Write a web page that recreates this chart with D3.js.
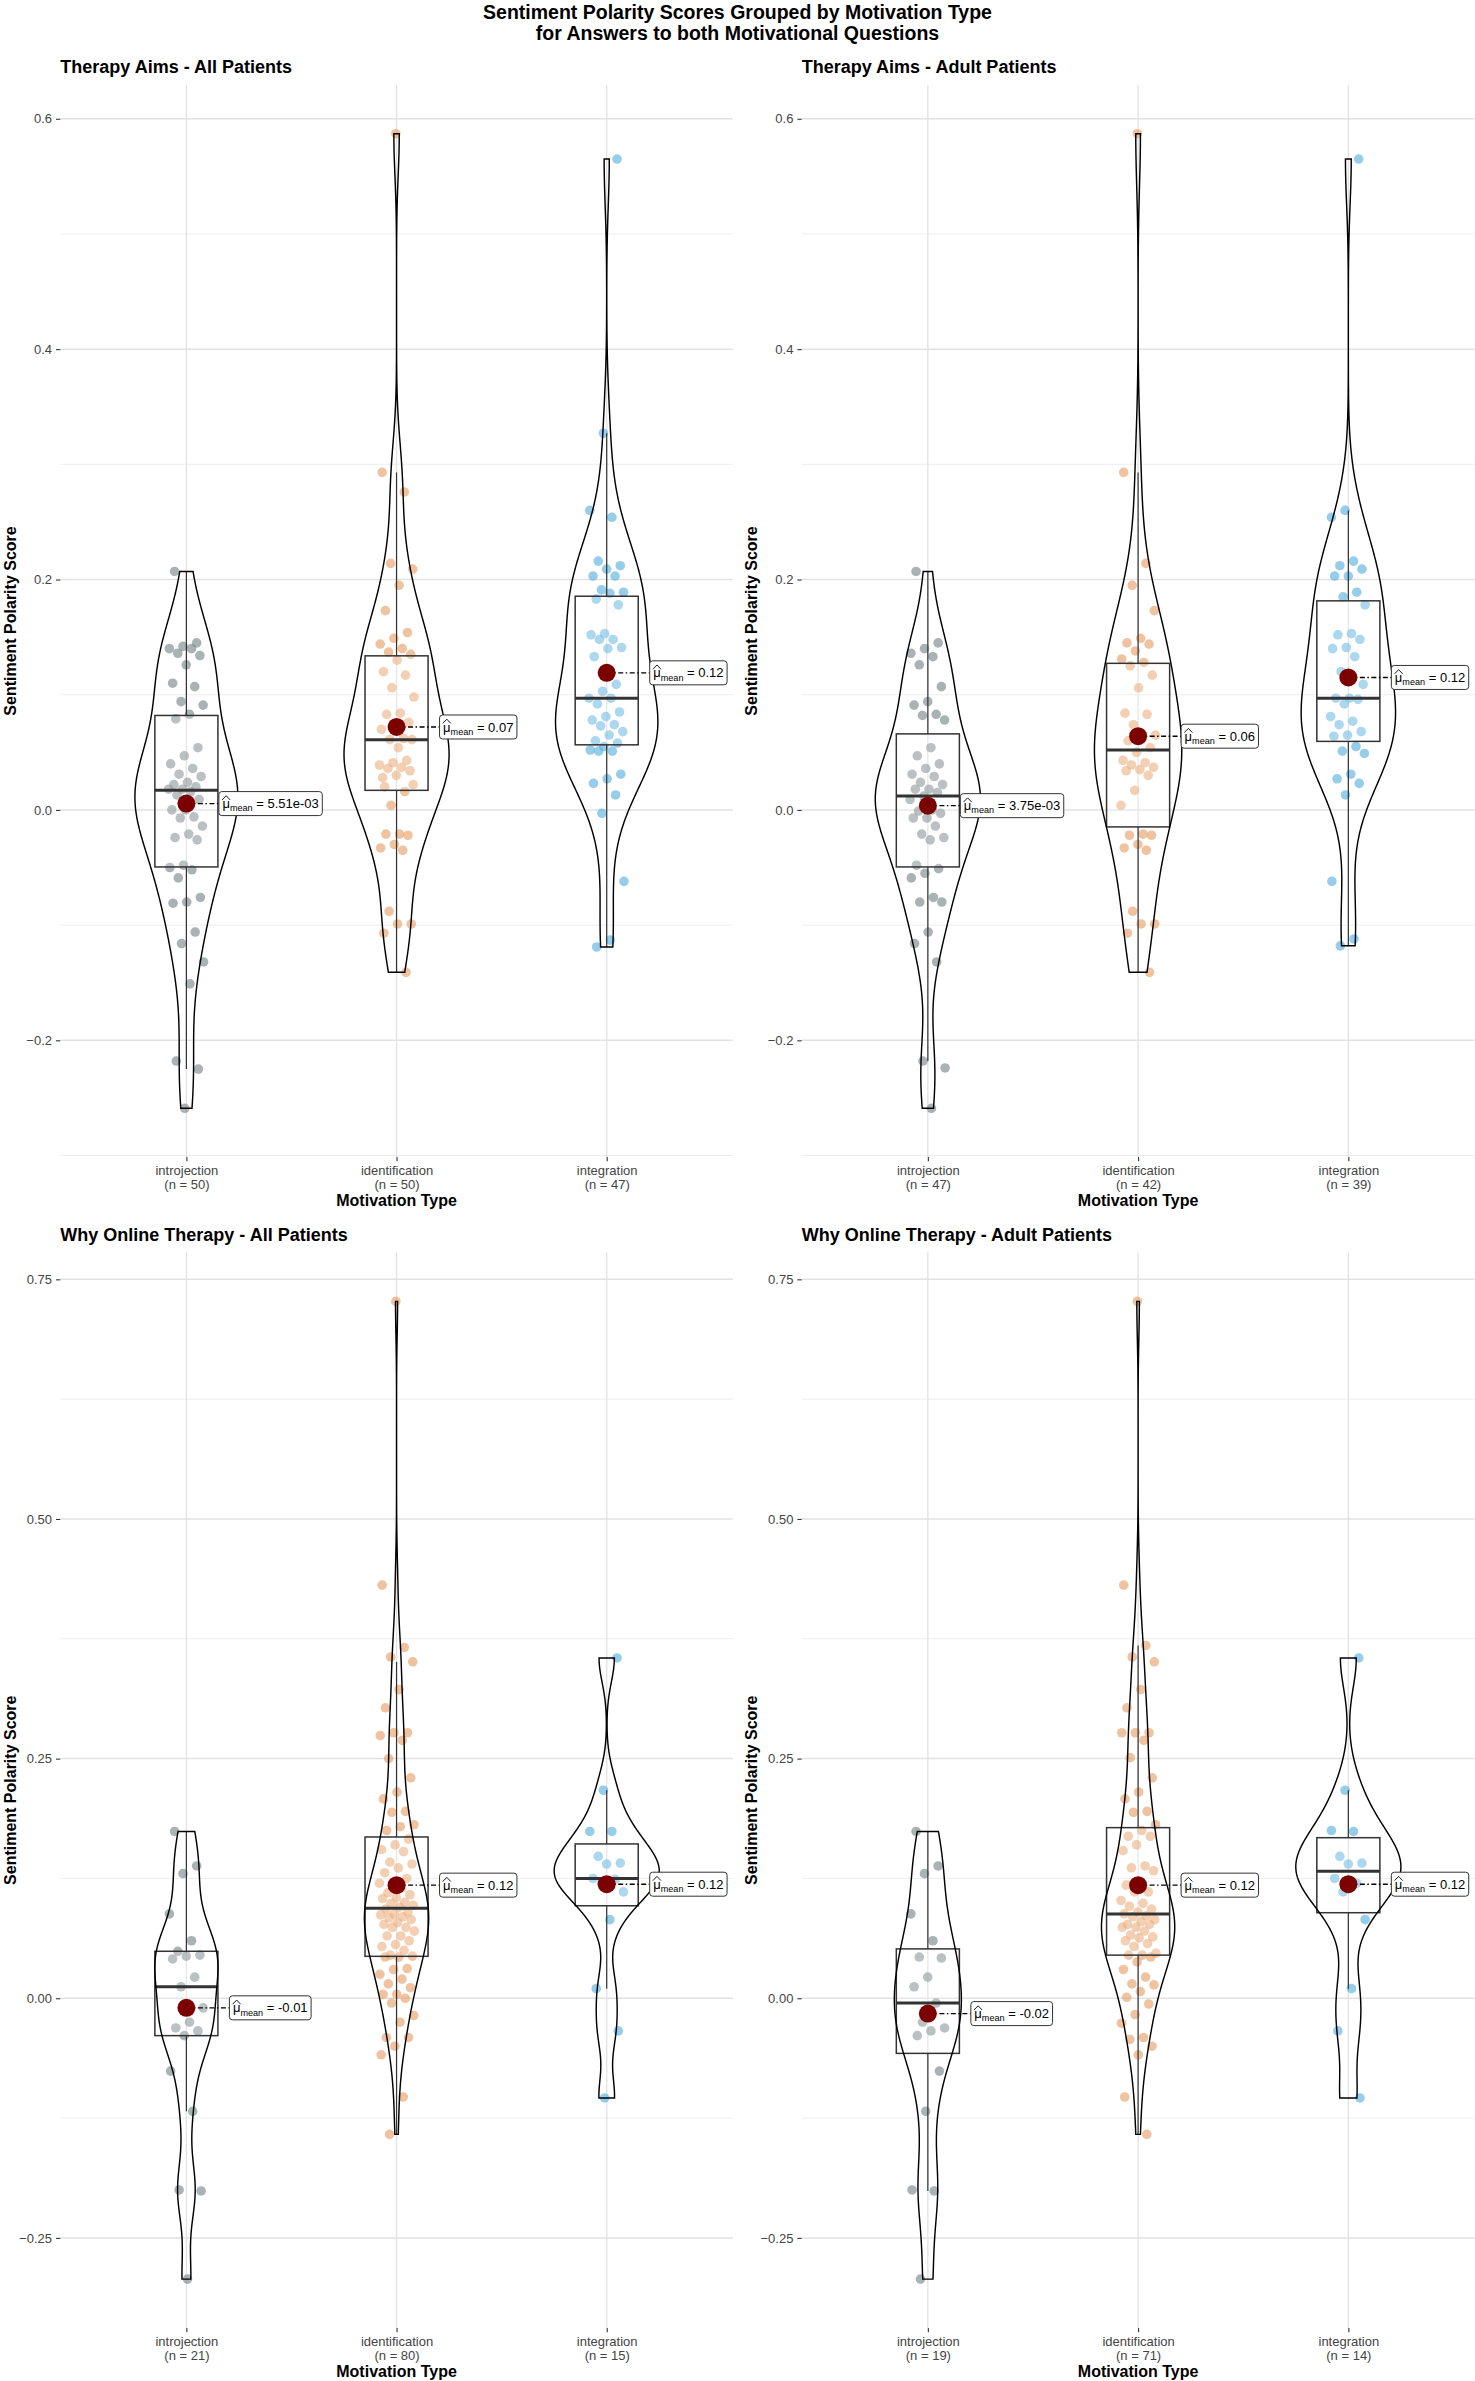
<!DOCTYPE html>
<html>
<head>
<meta charset="utf-8">
<script src="https://cdn.jsdelivr.net/npm/d3@7"></script>
<style>
  body { margin: 0; background: #fff; }
  svg text { font-family: "Liberation Sans", Arial, Helvetica, sans-serif; }
</style>
</head>
<body>
<svg id="chart" width="1475" height="2381"></svg>
<script>
// ---- data ----
const categories = ["introjection", "identification", "integration"];
const mainTitle = ["Sentiment Polarity Scores Grouped by Motivation Type",
                   "for Answers to both Motivational Questions"];
const panelTitles = ["Therapy Aims - All Patients", "Therapy Aims - Adult Patients",
                     "Why Online Therapy - All Patients", "Why Online Therapy - Adult Patients"];

const ticksAims = [-0.2, 0, 0.2, 0.4, 0.6];
const ticksOnline = [-0.25, 0, 0.25, 0.5, 0.75];

// Therapy Aims - All Patients
const aimsAllIntrojection = [0.207, 0.145, 0.142, 0.140, 0.140, 0.136, 0.134, 0.126, 0.110, 0.107,
  0.094, 0.091, 0.083, 0.079, 0.054, 0.047, 0.040, 0.036, 0.031, 0.029, 0.024, 0.022, 0.020, 0.018,
  0.018, 0.016, 0.013, 0.009, 0.000, 0.000, -0.006, -0.007, -0.014, -0.021, -0.024, -0.026, -0.048,
  -0.050, -0.052, -0.059, -0.076, -0.080, -0.081, -0.106, -0.116, -0.132, -0.151, -0.218, -0.225, -0.259];
const aimsAllIdentification = [0.587, 0.293, 0.276, 0.214, 0.209, 0.195, 0.173, 0.154, 0.149, 0.144,
  0.140, 0.137, 0.135, 0.130, 0.120, 0.117, 0.106, 0.098, 0.084, 0.083, 0.076, 0.072, 0.070, 0.062,
  0.061, 0.061, 0.054, 0.020, 0.043, 0.041, 0.039, 0.037, 0.036, 0.034, 0.030, 0.028, 0.016, 0.004,
  0.022, -0.021, -0.021, -0.022, -0.030, -0.033, -0.035, -0.088, -0.099, -0.099, -0.107, -0.141];
const aimsAllIntegration = [0.565, 0.327, 0.260, 0.254, 0.216, 0.212, 0.209, 0.203, 0.203, 0.191,
  0.189, 0.188, 0.183, 0.178, 0.153, 0.152, 0.148, 0.148, 0.141, 0.140, 0.133, 0.109, 0.103, 0.097,
  0.097, 0.092, 0.085, 0.081, 0.078, 0.074, 0.073, 0.068, 0.065, 0.060, 0.058, 0.055, 0.052, 0.051,
  0.051, 0.031, 0.027, 0.023, 0.013, -0.003, -0.062, -0.113, -0.119];
const meansAimsAll = [0.0055, 0.072, 0.119];
const meanLabelsAimsAll = ["5.51e-03", "0.07", "0.12"];

// Therapy Aims - Adult Patients
const aimsAdultIntrojection = [0.207, 0.145, 0.140, 0.136, 0.133, 0.126, 0.107, 0.094, 0.091, 0.083,
  0.082, 0.078, 0.054, 0.047, 0.040, 0.036, 0.031, 0.029, 0.024, 0.022, 0.018, 0.018, 0.015, 0.012,
  0.009, 0.000, -0.001, -0.003, -0.007, -0.007, -0.014, -0.021, -0.024, -0.026, -0.048, -0.051, -0.055,
  -0.059, -0.076, -0.080, -0.080, -0.106, -0.116, -0.132, -0.218, -0.224, -0.259];
const aimsAdultIdentification = [0.587, 0.293, 0.214, 0.195, 0.173, 0.149, 0.145, 0.144, 0.138, 0.131,
  0.128, 0.125, 0.117, 0.106, 0.084, 0.083, 0.074, 0.065, 0.064, 0.060, 0.054, 0.050, 0.043, 0.041,
  0.039, 0.037, 0.035, 0.034, 0.030, 0.017, 0.004, -0.021, -0.022, -0.022, -0.030, -0.033, -0.035,
  -0.088, -0.099, -0.099, -0.107, -0.141];
const aimsAdultIntegration = [0.565, 0.260, 0.254, 0.216, 0.212, 0.209, 0.203, 0.203, 0.189, 0.185,
  0.178, 0.153, 0.152, 0.148, 0.141, 0.140, 0.133, 0.120, 0.109, 0.097, 0.097, 0.096, 0.092, 0.081,
  0.077, 0.074, 0.068, 0.065, 0.064, 0.055, 0.051, 0.049, 0.031, 0.027, 0.023, 0.013, -0.062, -0.112, -0.118];
const meansAimsAdult = [0.0037, 0.064, 0.115];
const meanLabelsAimsAdult = ["3.75e-03", "0.06", "0.12"];

// Why Online Therapy - All Patients
const onlineAllIntrojection = [0.174, 0.138, 0.130, 0.088, 0.060, 0.049, 0.045, 0.044, 0.041, 0.022,
  0.012, -0.010, -0.025, -0.031, -0.034, -0.039, -0.076, -0.118, -0.200, -0.201, -0.293];
const onlineAllIdentification = [0.727, 0.431, 0.366, 0.356, 0.351, 0.322, 0.303, 0.277, 0.277, 0.274,
  0.269, 0.250, 0.230, 0.215, 0.208, 0.195, 0.194, 0.181, 0.179, 0.175, 0.166, 0.160, 0.155, 0.153,
  0.142, 0.140, 0.136, 0.131, 0.125, 0.120, 0.120, 0.115, 0.110, 0.108, 0.105, 0.104, 0.100, 0.099,
  0.097, 0.095, 0.093, 0.090, 0.088, 0.087, 0.085, 0.084, 0.082, 0.079, 0.077, 0.074, 0.074, 0.070,
  0.065, 0.065, 0.060, 0.056, 0.054, 0.050, 0.045, 0.044, 0.043, 0.043, 0.031, 0.030, 0.025, 0.020,
  0.015, 0.011, 0.004, 0.004, 0.000, -0.005, -0.018, -0.025, -0.041, -0.041, -0.050, -0.059, -0.103, -0.142];
const onlineAllIntegration = [0.355, 0.217, 0.174, 0.174, 0.148, 0.141, 0.140, 0.125, 0.124, 0.120,
  0.111, 0.082, 0.010, -0.034, -0.104];
const meansOnlineAll = [-0.010, 0.118, 0.119];
const meanLabelsOnlineAll = ["-0.01", "0.12", "0.12"];

// Why Online Therapy - Adult Patients
const onlineAdultIntrojection = [0.174, 0.138, 0.130, 0.088, 0.060, 0.043, 0.042, 0.022, 0.012, -0.005,
  -0.025, -0.031, -0.034, -0.039, -0.076, -0.118, -0.200, -0.201, -0.293];
const onlineAdultIdentification = [0.727, 0.431, 0.368, 0.356, 0.351, 0.322, 0.303, 0.277, 0.277, 0.277,
  0.269, 0.251, 0.230, 0.215, 0.208, 0.195, 0.194, 0.181, 0.175, 0.169, 0.169, 0.160, 0.154, 0.138,
  0.136, 0.133, 0.120, 0.118, 0.111, 0.111, 0.102, 0.099, 0.096, 0.093, 0.090, 0.088, 0.086, 0.085,
  0.082, 0.080, 0.077, 0.077, 0.074, 0.074, 0.070, 0.066, 0.064, 0.063, 0.060, 0.057, 0.054, 0.047,
  0.045, 0.045, 0.043, 0.038, 0.030, 0.022, 0.015, 0.014, 0.007, 0.001, -0.006, -0.017, -0.026, -0.041,
  -0.043, -0.050, -0.059, -0.103, -0.142];
const onlineAdultIntegration = [0.355, 0.217, 0.175, 0.174, 0.148, 0.141, 0.140, 0.125, 0.120, 0.111,
  0.082, 0.010, -0.034, -0.104];
const meansOnlineAdult = [-0.016, 0.118, 0.119];
const meanLabelsOnlineAdult = ["-0.02", "0.12", "0.12"];

const pointColors = ["#717F82", "#E69B61", "#50ACDE"];

const panels = [
  { title: panelTitles[0], groups: [aimsAllIntrojection, aimsAllIdentification, aimsAllIntegration],
    means: meansAimsAll, labels: meanLabelsAimsAll, ticks: ticksAims, fmt: ".1f" },
  { title: panelTitles[1], groups: [aimsAdultIntrojection, aimsAdultIdentification, aimsAdultIntegration],
    means: meansAimsAdult, labels: meanLabelsAimsAdult, ticks: ticksAims, fmt: ".1f" },
  { title: panelTitles[2], groups: [onlineAllIntrojection, onlineAllIdentification, onlineAllIntegration],
    means: meansOnlineAll, labels: meanLabelsOnlineAll, ticks: ticksOnline, fmt: ".2f" },
  { title: panelTitles[3], groups: [onlineAdultIntrojection, onlineAdultIdentification, onlineAdultIntegration],
    means: meansOnlineAdult, labels: meanLabelsOnlineAdult, ticks: ticksOnline, fmt: ".2f" }
];

// ---- layout ----
const colX = [[60.3, 732.8], [801.7, 1474.5]];
const rowY = [[85, 1157], [1252.5, 2328]];

const svg = d3.select("#chart");

svg.append("g").selectAll("text").data(mainTitle).join("text")
  .attr("x", 737.5).attr("y", (d, i) => 19 + i * 21)
  .attr("text-anchor", "middle")
  .style("font-size", "19.5px").style("font-weight", "bold")
  .text(d => d);

// gaussian kde, bw.nrd0 like R
function kde(values, n) {
  const s = values.slice().sort(d3.ascending);
  const sd = d3.deviation(s);
  const iqr = d3.quantileSorted(s, 0.75) - d3.quantileSorted(s, 0.25);
  let lo = Math.min(sd, iqr / 1.34);
  if (!(lo > 0)) lo = sd;
  const bw = 0.9 * lo * Math.pow(s.length, -0.2);
  const mn = s[0], mx = s[s.length - 1];
  const k = 1 / Math.sqrt(2 * Math.PI);
  return d3.range(n).map(i => {
    const y = mn + (mx - mn) * i / (n - 1);
    const d = d3.mean(s, v => k * Math.exp(-0.5 * ((y - v) / bw) ** 2)) / bw;
    return [y, d];
  });
}

function boxStats(values) {
  const s = values.slice().sort(d3.ascending);
  const q1 = d3.quantileSorted(s, 0.25), med = d3.quantileSorted(s, 0.5), q3 = d3.quantileSorted(s, 0.75);
  const iqr = q3 - q1;
  const lo = d3.min(s.filter(v => v >= q1 - 1.5 * iqr));
  const hi = d3.max(s.filter(v => v <= q3 + 1.5 * iqr));
  return { q1, med, q3, lo, hi };
}

panels.forEach((p, pi) => {
  const [x0, x1] = colX[pi % 2];
  const [y0, y1] = rowY[Math.floor(pi / 2)];
  const g = svg.append("g");

  const all = p.groups.flat();
  const [mn, mx] = d3.extent(all);
  const pad = (mx - mn) * 0.05;
  const y = d3.scaleLinear().domain([mn - pad, mx + pad]).range([y1, y0]);
  const x = d3.scalePoint().domain(categories).range([x0, x1]).padding(0.6);
  const step = x.step();

  // grid
  const tstep = p.ticks[1] - p.ticks[0];
  const minor = [p.ticks[0] - tstep / 2, ...p.ticks.map(t => t + tstep / 2)]
    .filter(v => v >= y.domain()[0] && v <= y.domain()[1]);
  g.append("g").selectAll("line").data(minor).join("line")
    .attr("x1", x0).attr("x2", x1).attr("y1", d => y(d)).attr("y2", d => y(d))
    .attr("stroke", "#EBEBEB").attr("stroke-width", 0.9);
  g.append("g").selectAll("line").data(p.ticks).join("line")
    .attr("x1", x0).attr("x2", x1).attr("y1", d => y(d)).attr("y2", d => y(d))
    .attr("stroke", "#E2E2E2").attr("stroke-width", 1.5);
  g.append("g").selectAll("line").data(categories).join("line")
    .attr("x1", d => x(d)).attr("x2", d => x(d)).attr("y1", y0).attr("y2", y1)
    .attr("stroke", "#E2E2E2").attr("stroke-width", 1.3);

  // jittered points
  p.groups.forEach((vals, gi) => {
    const cx = x(categories[gi]);
    g.append("g").selectAll("circle").data(vals).join("circle")
      .attr("cx", (d, i) => cx + (((i * 0.6180339887 + 0.31 * gi + 0.17) % 1) * 2 - 1) * 0.085 * step)
      .attr("cy", d => y(d))
      .attr("r", 4.8)
      .attr("fill", pointColors[gi]).attr("fill-opacity", 0.6);
  });

  // boxplots
  p.groups.forEach((vals, gi) => {
    const cx = x(categories[gi]);
    const b = boxStats(vals);
    const hw = 0.15 * step;
    const bg = g.append("g").attr("stroke", "#333333");
    bg.append("line").attr("x1", cx).attr("x2", cx).attr("y1", y(b.q3)).attr("y2", y(b.hi)).attr("stroke-width", 1.2);
    bg.append("line").attr("x1", cx).attr("x2", cx).attr("y1", y(b.q1)).attr("y2", y(b.lo)).attr("stroke-width", 1.2);
    bg.append("rect").attr("x", cx - hw).attr("width", 2 * hw)
      .attr("y", y(b.q3)).attr("height", y(b.q1) - y(b.q3))
      .attr("fill", "#fff").attr("fill-opacity", 0.2).attr("stroke-width", 1.5);
    bg.append("line").attr("x1", cx - hw).attr("x2", cx + hw).attr("y1", y(b.med)).attr("y2", y(b.med))
      .attr("stroke-width", 3);
  });

  // violins (scale = "area")
  const dens = p.groups.map(v => kde(v, 512));
  const maxD = d3.max(dens, d => d3.max(d, e => e[1]));
  dens.forEach((d, gi) => {
    const cx = x(categories[gi]);
    const area = d3.area()
      .y(e => y(e[0]))
      .x0(e => cx - e[1] / maxD * 0.25 * step)
      .x1(e => cx + e[1] / maxD * 0.25 * step);
    g.append("path").attr("d", area(d))
      .attr("fill", "none").attr("stroke", "#000").attr("stroke-width", 1.45);
  });

  // means with labels
  p.means.forEach((m, gi) => {
    const cx = x(categories[gi]);
    const my = y(m);
    const lab = g.append("g");
    const line = lab.append("line").attr("x1", cx).attr("y1", my).attr("y2", my)
      .attr("stroke", "#000").attr("stroke-width", 1.4).attr("stroke-dasharray", "5,2.5,1.5,2.5");
    lab.append("circle").attr("cx", cx).attr("cy", my).attr("r", 9).attr("fill", "#7d0000");

    const lg = lab.append("g");
    const rect = lg.append("rect").attr("y", -12).attr("height", 24).attr("rx", 3)
      .attr("fill", "#fff").attr("stroke", "#333").attr("stroke-width", 1);
    const t = lg.append("text").attr("x", 3.5).attr("y", 4.6).style("font-size", "13px").attr("fill", "#000");
    const mu = t.append("tspan").text("μ");
    t.append("tspan").attr("dy", 3.2).style("font-size", "9.1px").text("mean");
    t.append("tspan").attr("dy", -3.2).text(" = " + p.labels[gi]);
    const tw = t.node().getComputedTextLength();
    const muw = mu.node().getComputedTextLength();
    lg.append("path")
      .attr("d", `M${3.2},${-3.6}L${3.5 + muw / 2},${-7.8}L${3.8 + muw},${-3.6}`)
      .attr("fill", "none").attr("stroke", "#000").attr("stroke-width", 0.9);
    const w = tw + 7;
    rect.attr("width", w);
    const lx = cx + (w > 90 ? 32.5 : 43);
    lg.attr("transform", `translate(${lx},${my})`);
    line.attr("x2", lx);
  });

  // y axis
  const ya = g.append("g").attr("transform", `translate(${x0},0)`)
    .call(d3.axisLeft(y).tickValues(p.ticks).tickFormat(d3.format(p.fmt)).tickSize(4.3).tickPadding(4));
  ya.select(".domain").remove();
  ya.selectAll(".tick line").attr("stroke", "#333").attr("stroke-width", 1.1);
  ya.selectAll(".tick text").attr("fill", "#444").style("font-size", "13px")
    .style("font-family", '"Liberation Sans", Arial, sans-serif');

  // x axis
  const xa = g.append("g").attr("transform", `translate(0,${y1})`)
    .call(d3.axisBottom(x).tickSize(4.3).tickPadding(4.5));
  xa.select(".domain").remove();
  xa.selectAll(".tick line").attr("stroke", "#333").attr("stroke-width", 1.1);
  xa.selectAll(".tick text").attr("fill", "#444").style("font-size", "13px")
    .style("font-family", '"Liberation Sans", Arial, sans-serif')
    .each(function (d, i) {
      const el = d3.select(this).text(null);
      el.append("tspan").attr("x", 0).text(d);
      el.append("tspan").attr("x", 0).attr("dy", "1.08em").text(`(n = ${p.groups[i].length})`);
    });

  // titles
  g.append("text").attr("x", x0).attr("y", y0 - 12)
    .style("font-size", "18px").style("font-weight", "bold").text(p.title);
  g.append("text").attr("x", (x0 + x1) / 2).attr("y", y1 + 49).attr("text-anchor", "middle")
    .style("font-size", "16px").style("font-weight", "bold").text("Motivation Type");
  g.append("text")
    .attr("transform", `translate(${x0 - 50},${(y0 + y1) / 2}) rotate(-90)`)
    .attr("text-anchor", "middle").attr("dy", "0.36em")
    .style("font-size", "16px").style("font-weight", "bold").text("Sentiment Polarity Score");
});
</script>
</body>
</html>
